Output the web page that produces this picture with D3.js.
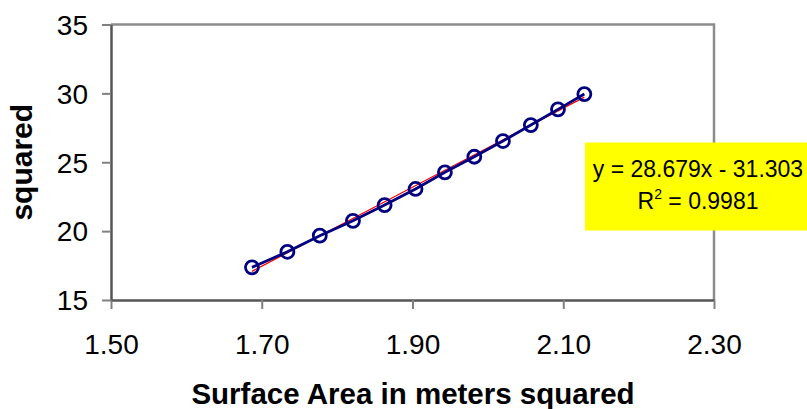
<!DOCTYPE html>
<html>
<head>
<meta charset="utf-8">
<script src="https://cdn.jsdelivr.net/npm/d3@7/dist/d3.min.js"></script>
<style>
  body { margin: 0; background: #fff; }
  text { font-family: "Liberation Sans", Arial, sans-serif; }
</style>
</head>
<body>
<script>
const w = 807;
const h = 409;

// surface area (m^2) vs value
const xValues = [1.687, 1.734, 1.777, 1.821, 1.863, 1.904, 1.943, 1.982, 2.020, 2.057, 2.093, 2.128];
const yValues = [17.37, 18.50, 19.67, 20.75, 21.89, 23.06, 24.27, 25.40, 26.54, 27.70, 28.84, 29.95];
const xTicks = [1.5, 1.7, 1.9, 2.1, 2.3];
const yTicks = [15, 20, 25, 30, 35];
const slope = 28.679;
const intercept = -31.303;
const r2 = "0.9981";

const pLeft = 111, pRight = 714, pTop = 24.5, pBottom = 300;

const svg = d3.select("body")
  .append("svg")
  .attr("width", w)
  .attr("height", h);

const xScale = d3.scaleLinear().domain([1.5, 2.3]).range([pLeft, pRight]);
const yScale = d3.scaleLinear().domain([15, 35]).range([pBottom, pTop]);

// plot area border (top + right)
svg.append("path")
  .attr("d", `M${pLeft},${pTop}H${pRight}V${pBottom}`)
  .attr("fill", "none")
  .attr("stroke", "#8c8c8c")
  .attr("stroke-width", 2.5);

const xAxis = d3.axisBottom(xScale)
  .tickValues(xTicks)
  .tickFormat(d3.format(".2f"))
  .tickSize(9)
  .tickSizeOuter(0);

const yAxis = d3.axisLeft(yScale)
  .tickValues(yTicks)
  .tickSize(9)
  .tickSizeOuter(0);

const gx = svg.append("g")
  .attr("transform", "translate(0," + pBottom + ")")
  .call(xAxis);

const gy = svg.append("g")
  .attr("transform", "translate(" + pLeft + ",0)")
  .call(yAxis);

[gx, gy].forEach(g => {
  g.select(".domain").attr("stroke", "#555").attr("stroke-width", 2.5);
  g.selectAll(".tick line").attr("stroke", "#808080").attr("stroke-width", 2);
  g.selectAll(".tick text")
    .attr("font-size", 28)
    .attr("fill", "#000")
    .style("font-family", "'Liberation Sans', Arial, sans-serif");
});
gx.selectAll(".tick text").attr("y", 53.5).attr("dy", 0);
gy.selectAll(".tick text").attr("x", -23).attr("dy", "0.35em");

// axis titles
svg.append("text")
  .attr("x", 413)
  .attr("y", 404)
  .attr("text-anchor", "middle")
  .attr("font-size", 29.5)
  .attr("font-weight", "bold")
  .text("Surface Area in meters squared");

svg.append("text")
  .attr("transform", "translate(32," + (pTop + pBottom) / 2 + ") rotate(-90)")
  .attr("text-anchor", "middle")
  .attr("font-size", 30)
  .attr("font-weight", "bold")
  .text("squared");

// trendline
const xExt = d3.extent(xValues);
svg.append("line")
  .attr("x1", xScale(xExt[0]))
  .attr("y1", yScale(slope * xExt[0] + intercept))
  .attr("x2", xScale(xExt[1]))
  .attr("y2", yScale(slope * xExt[1] + intercept))
  .attr("stroke", "#ff0000")
  .attr("stroke-width", 1.2);

const pts = xValues.map((x, i) => [x, yValues[i]]);

svg.append("path")
  .datum(pts)
  .attr("d", d3.line().x(d => xScale(d[0])).y(d => yScale(d[1])))
  .attr("fill", "none")
  .attr("stroke", "#000080")
  .attr("stroke-width", 2.8);

svg.selectAll("circle")
  .data(pts)
  .enter()
  .append("circle")
  .attr("cx", d => xScale(d[0]))
  .attr("cy", d => yScale(d[1]))
  .attr("r", 6.5)
  .attr("fill", "none")
  .attr("stroke", "#000080")
  .attr("stroke-width", 2.8);

// equation label
const lbl = svg.append("g");
lbl.append("rect")
  .attr("x", 585)
  .attr("y", 142.5)
  .attr("width", 240)
  .attr("height", 88)
  .attr("fill", "#ffff00");

lbl.append("text")
  .attr("x", 698)
  .attr("y", 177)
  .attr("text-anchor", "middle")
  .attr("font-size", 23)
  .text("y = " + slope + "x - " + Math.abs(intercept).toFixed(3));

const t2 = lbl.append("text")
  .attr("x", 698)
  .attr("y", 209)
  .attr("text-anchor", "middle")
  .attr("font-size", 23);
t2.append("tspan").text("R");
t2.append("tspan").attr("font-size", 14).attr("dy", -10).text("2");
t2.append("tspan").attr("dy", 10).text(" = " + r2);
</script>
</body>
</html>
